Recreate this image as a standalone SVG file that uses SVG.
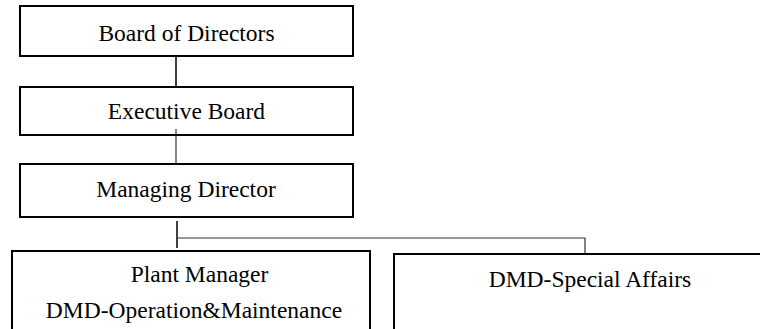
<svg xmlns="http://www.w3.org/2000/svg" width="760" height="329" viewBox="0 0 760 329">
<style>
.box{fill:#fff;stroke:#000;stroke-width:2}
.lbl{font-family:"Liberation Serif","Times New Roman",serif;font-size:23.5px;fill:#000;text-anchor:middle}
.con{fill:none;stroke:#333;stroke-width:1.2}
.con.dark{stroke:#111;stroke-width:1.6}
</style>
<rect width="760" height="329" fill="#fff"/>
<g id="connectors">
<line class="con dark" x1="176" y1="56" x2="176" y2="87"/>
<line class="con" x1="176" y1="129" x2="176" y2="164"/>
<line class="con dark" x1="177" y1="221" x2="177" y2="248"/>
<polyline class="con" points="177,238 585,238 585,254"/>
</g>
<g id="board">
<rect class="box" x="20" y="6" width="333" height="50"/>
<text class="lbl" x="186.5" y="41">Board of Directors</text>
</g>
<g id="executive">
<rect class="box" x="20" y="87" width="333" height="48"/>
<text class="lbl" x="186.5" y="119">Executive Board</text>
</g>
<line class="con" x1="176" y1="129" x2="176" y2="135"/>
<g id="managing">
<rect class="box" x="20" y="164" width="333" height="53"/>
<text class="lbl" x="186" y="197">Managing Director</text>
</g>
<g id="plant">
<rect class="box" x="12" y="251" width="358" height="100"/>
<text class="lbl" x="199.5" y="282">Plant Manager</text>
<text class="lbl" x="194" y="318">DMD-Operation&amp;Maintenance</text>
</g>
<g id="special">
<rect class="box" x="394" y="254" width="400" height="100"/>
<text class="lbl" x="590" y="287">DMD-Special Affairs</text>
</g>
</svg>
